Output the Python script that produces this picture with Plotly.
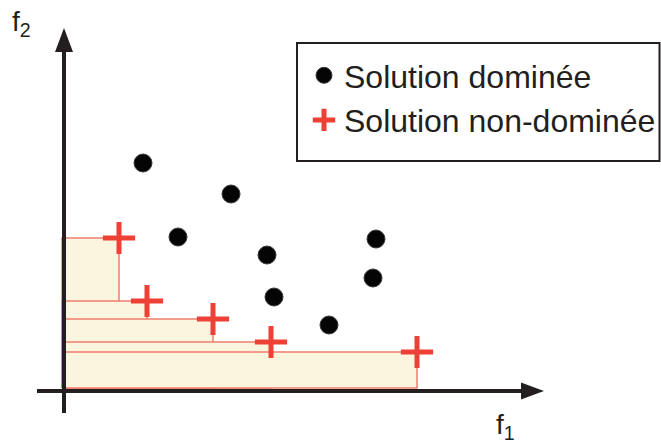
import plotly.graph_objects as go

# objective space (f1, f2) of the two kinds of solutions
dom_f1 = [7.9, 16.7, 11.4, 20.3, 31.2, 30.9, 21.0, 26.5]
dom_f2 = [22.8, 19.7, 15.4, 13.6, 15.2, 11.3, 9.4, 6.6]

nondom_f1 = [5.5, 8.3, 14.9, 20.7, 35.3]
nondom_f2 = [15.3, 9.0, 7.2, 4.9, 3.9]

legend_names = ["Solution dominée", "Solution non-dominée"]

AXIS_COLOR = "#231F20"
RED = "#EE4136"
FONT = "Liberation Sans, Arial, Helvetica, sans-serif"

fig = go.Figure()

# dominated region of each non-dominated point (drawn in order, opaque)
for x1, y1 in zip(nondom_f1, nondom_f2):
    x0, y0 = -0.2, 0.3
    fig.add_trace(go.Scatter(
        x=[x0, x1, x1, x0, x0],
        y=[y0, y0, y1, y1, y0],
        mode="lines",
        fill="toself",
        fillcolor="#FBF5E0",
        line=dict(color="#EF7E6E", width=1.5),
        showlegend=False,
        hoverinfo="skip",
    ))

fig.add_trace(go.Scatter(
    x=dom_f1, y=dom_f2,
    mode="markers",
    name=legend_names[0],
    marker=dict(symbol="circle", size=18, color="#050505",
                line=dict(color="#3a3a3a", width=1)),
))

fig.add_trace(go.Scatter(
    x=nondom_f1, y=nondom_f2,
    mode="markers",
    name=legend_names[1],
    marker=dict(symbol="cross-thin", size=23,
                line=dict(color=RED, width=5)),
))

# axes with arrowheads
x_end, y_end = 45.7, 33.9
shapes = [
    dict(type="line", x0=-2.7, x1=x_end, y0=0, y1=0,
         line=dict(color=AXIS_COLOR, width=4), layer="above"),
    dict(type="line", x0=0, x1=0, y0=-2.2, y1=y_end,
         line=dict(color=AXIS_COLOR, width=4), layer="above"),
    dict(type="path", path=f"M {x_end},-0.85 L {x_end},0.85 L {x_end + 2.3},0 Z",
         fillcolor=AXIS_COLOR, line=dict(width=0), layer="above"),
    dict(type="path", path=f"M -0.9,{y_end} L 0.9,{y_end} L 0,{y_end + 2.4} Z",
         fillcolor=AXIS_COLOR, line=dict(width=0), layer="above"),
    # legend frame
    dict(type="rect", xref="paper", yref="paper",
         x0=297 / 661, x1=659.5 / 661, y0=1 - 161 / 444, y1=1 - 43 / 444,
         line=dict(color=AXIS_COLOR, width=2), fillcolor="white", layer="below"),
]

annotations = [
    dict(text="f<sub>2</sub>", xref="paper", yref="paper",
         x=10 / 661, y=1 - 4 / 444, xanchor="left", yanchor="top",
         showarrow=False, font=dict(size=28, color=AXIS_COLOR, family=FONT)),
    dict(text="f<sub>1</sub>", xref="paper", yref="paper",
         x=494 / 661, y=1 - 407 / 444, xanchor="left", yanchor="top",
         showarrow=False, font=dict(size=28, color=AXIS_COLOR, family=FONT)),
]

fig.update_layout(
    width=661, height=444,
    margin=dict(l=0, r=0, t=0, b=0),
    paper_bgcolor="white", plot_bgcolor="white",
    xaxis=dict(range=[-6.4, 59.7], visible=False),
    yaxis=dict(range=[-5.3, 39.1], visible=False),
    shapes=shapes,
    annotations=annotations,
    showlegend=True,
    legend=dict(x=304 / 661, y=1 - 48 / 444, xanchor="left", yanchor="top",
                bgcolor="rgba(0,0,0,0)", borderwidth=0, tracegroupgap=0,
                font=dict(size=32, color=AXIS_COLOR, family=FONT)),
    font=dict(family=FONT),
)

fig.write_html("out.html", config={"displayModeBar": False},
               post_script="document.body.style.margin='0';")
